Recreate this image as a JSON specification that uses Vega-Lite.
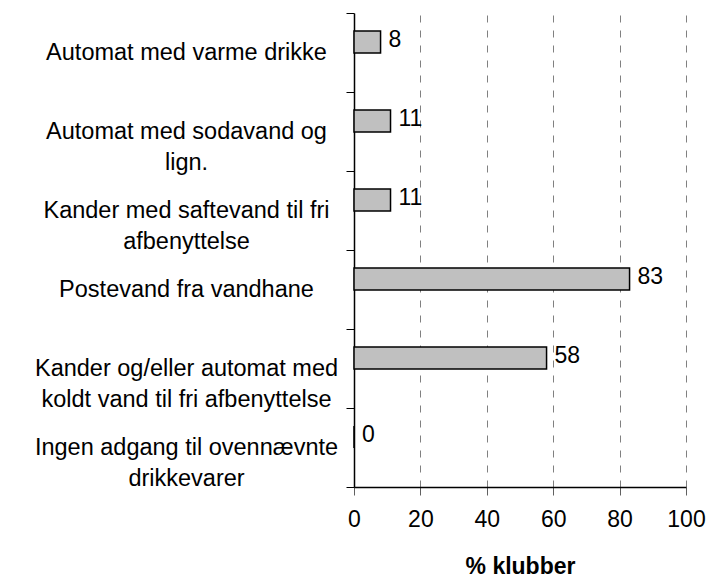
{
  "$schema": "https://vega.github.io/schema/vega-lite/v6.json",
  "width": 332,
  "height": 474,
  "autosize": {"type": "none"},
  "padding": {"left": 354, "top": 13, "right": 22, "bottom": 91},
  "background": "white",
  "config": {
    "view": {"stroke": null},
    "font": "Liberation Sans",
    "axis": {"labelFont": "Liberation Sans", "titleFont": "Liberation Sans"}
  },
  "data": {
    "values": [
      {"category": "Automat med varme drikke", "value": 8},
      {"category": "Automat med sodavand og\nlign.", "value": 11},
      {"category": "Kander med saftevand til fri\nafbenyttelse", "value": 11},
      {"category": "Postevand fra vandhane", "value": 83},
      {"category": "Kander og/eller automat med\nkoldt vand til fri afbenyttelse", "value": 58},
      {"category": "Ingen adgang til ovennævnte\ndrikkevarer", "value": 0}
    ]
  },
  "encoding": {
    "y": {
      "field": "category",
      "type": "nominal",
      "sort": null,
      "scale": {"paddingInner": 0, "paddingOuter": 0},
      "axis": {
        "title": null,
        "tickBand": "extent",
        "tickSize": 8,
        "tickColor": "black",
        "tickWidth": 1,
        "domainColor": "black",
        "domainWidth": 1.5,
        "labelFontSize": 23.5,
        "labelColor": "black",
        "labelLimit": 0,
        "labelLineHeight": 31,
        "labelAlign": "center",
        "labelBaseline": "middle",
        "labelPadding": 160,
        "labelExpr": "split(datum.label, '\\n')"
      }
    },
    "x": {
      "field": "value",
      "type": "quantitative",
      "scale": {"domain": [0, 100], "nice": false},
      "axis": {
        "title": "% klubber",
        "titleFontSize": 23,
        "titleFontWeight": "bold",
        "titleColor": "black",
        "titlePadding": 24,
        "values": [0, 20, 40, 60, 80, 100],
        "tickSize": 8,
        "tickColor": "#606060",
        "domainColor": "black",
        "domainWidth": 1.5,
        "labelFontSize": 23,
        "labelColor": "black",
        "labelPadding": 13,
        "labelFlush": false,
        "grid": true,
        "gridColor": "#808080",
        "gridDash": [7, 8],
        "gridWidth": 1
      }
    }
  },
  "layer": [
    {
      "mark": {"type": "bar", "height": 22, "yOffset": -10.5, "fill": "#c0c0c0", "stroke": "black", "strokeWidth": 1.5}
    },
    {
      "mark": {"type": "text", "align": "left", "baseline": "middle", "dx": 8, "yOffset": -13, "fontSize": 23, "color": "black"},
      "encoding": {"text": {"field": "value", "type": "quantitative"}}
    }
  ]
}
